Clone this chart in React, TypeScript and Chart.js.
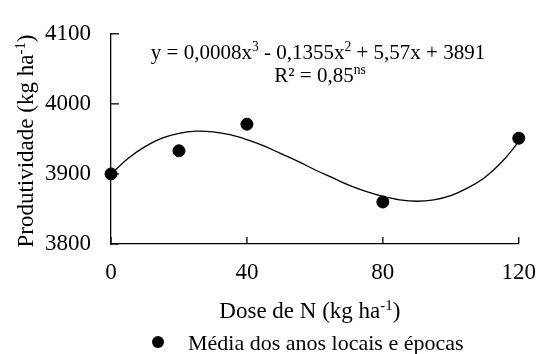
import React, { useEffect, useRef } from "react";
import { Chart, registerables } from "chart.js";

Chart.register(...registerables);

// ---- data ----
const doses = [0, 20, 40, 80, 120];
const produtividade = [3900, 3933, 3971, 3860, 3951];

// fitted trend line
const curveDoses = [0, 5, 10, 15, 20, 25, 30, 35, 40, 45, 50, 55, 60, 65, 70, 75, 80, 85, 90, 95, 100, 105, 110, 115, 120];
const curveValues = [
  3900, 3922, 3939, 3951, 3958, 3961, 3960, 3956, 3949, 3940, 3929, 3918, 3906, 3895, 3884, 3875, 3868,
  3863, 3861, 3863, 3869, 3880, 3895, 3917, 3946,
];

const xTicks = [0, 40, 80, 120];
const yTicks = [3800, 3900, 4000, 4100];

const legendLabel = "Média dos anos locais e épocas";

type Seg = { t: string; sup?: boolean };
const equationLine1: Seg[] = [
  { t: "y = 0,0008x" },
  { t: "3", sup: true },
  { t: " - 0,1355x" },
  { t: "2", sup: true },
  { t: " + 5,57x + 3891" },
];
const equationLine2: Seg[] = [{ t: "R² = 0,85" }, { t: "ns", sup: true }];
const xTitle: Seg[] = [{ t: "Dose de N (kg ha" }, { t: "-1", sup: true }, { t: ")" }];
const yTitle: Seg[] = [{ t: "Produtividade (kg ha" }, { t: "-1", sup: true }, { t: ")" }];

const FONT = "'Liberation Serif', 'Times New Roman', Times, serif";

function drawRich(
  ctx: CanvasRenderingContext2D,
  segs: Seg[],
  x: number,
  y: number,
  size: number,
  align: "center" | "left"
) {
  const supSize = size * 0.65;
  let total = 0;
  const widths = segs.map((s) => {
    ctx.font = `${s.sup ? supSize : size}px ${FONT}`;
    const w = ctx.measureText(s.t).width;
    total += w;
    return w;
  });
  let cx = align === "center" ? x - total / 2 : x;
  ctx.textAlign = "left";
  ctx.textBaseline = "alphabetic";
  segs.forEach((s, i) => {
    ctx.font = `${s.sup ? supSize : size}px ${FONT}`;
    ctx.fillText(s.t, cx, s.sup ? y - size * 0.36 : y);
    cx += widths[i];
  });
}

const overlayPlugin = {
  id: "overlay",
  afterDraw(chart: any) {
    const { ctx, chartArea } = chart;
    const xs = chart.scales.x;
    const ys = chart.scales.y;
    ctx.save();
    ctx.strokeStyle = "#000";
    ctx.fillStyle = "#000";
    ctx.lineWidth = 1.3;
    // inward tick marks
    yTicks.forEach((v) => {
      const py = ys.getPixelForValue(v);
      ctx.beginPath();
      ctx.moveTo(chartArea.left, py);
      ctx.lineTo(chartArea.left + 8, py);
      ctx.stroke();
    });
    xTicks.forEach((v) => {
      const px = xs.getPixelForValue(v);
      ctx.beginPath();
      ctx.moveTo(px, chartArea.bottom);
      ctx.lineTo(px, chartArea.bottom - 7);
      ctx.stroke();
    });
    // equation
    drawRich(ctx, equationLine1, 318, 59, 21, "center");
    drawRich(ctx, equationLine2, 320, 82, 21, "center");
    // axis titles
    const cxArea = (chartArea.left + chartArea.right) / 2;
    drawRich(ctx, xTitle, cxArea - 5, 318, 23, "center");
    ctx.save();
    ctx.translate(33, 141);
    ctx.rotate(-Math.PI / 2);
    drawRich(ctx, yTitle, 0, 0, 23, "center");
    ctx.restore();
    // legend
    ctx.beginPath();
    ctx.arc(158, 342, 6, 0, Math.PI * 2);
    ctx.fill();
    ctx.font = `22px ${FONT}`;
    ctx.textAlign = "left";
    ctx.textBaseline = "alphabetic";
    ctx.fillText(legendLabel, 188, 350);
    ctx.restore();
  },
};

export default function App() {
  const ref = useRef<HTMLCanvasElement | null>(null);
  useEffect(() => {
    if (!ref.current) return;
    const chart = new Chart(ref.current, {
      type: "scatter",
      data: {
        datasets: [
          {
            label: "Ajuste",
            data: curveDoses.map((d, i) => ({ x: d, y: curveValues[i] })),
            showLine: true,
            borderColor: "#000",
            borderWidth: 1.3,
            pointRadius: 0,
            pointHoverRadius: 0,
            tension: 0.4,
            fill: false,
            clip: false,
            order: 2,
          } as any,
          {
            label: legendLabel,
            data: doses.map((d, i) => ({ x: d, y: produtividade[i] })),
            backgroundColor: "#000",
            borderColor: "#000",
            pointRadius: 6,
            pointHoverRadius: 6,
            clip: false,
            order: 1,
          } as any,
        ],
      },
      options: {
        animation: false,
        responsive: false,
        events: [],
        layout: { padding: { top: 24, right: 20, left: 0, bottom: 0 } },
        plugins: { legend: { display: false }, tooltip: { enabled: false } },
        scales: {
          x: {
            type: "linear",
            min: 0,
            max: 120,
            afterBuildTicks: (s: any) => {
              s.ticks = xTicks.map((v) => ({ value: v }));
            },
            afterFit: (s: any) => {
              s.height = 110;
            },
            grid: { display: false, drawTicks: false },
            border: { display: true, color: "#000", width: 1.3 },
            ticks: {
              color: "#000",
              font: { family: FONT, size: 23 },
              padding: 15,
              maxRotation: 0,
              callback: (v: any) => String(v),
            },
          },
          y: {
            type: "linear",
            min: 3800,
            max: 4100,
            afterBuildTicks: (s: any) => {
              s.ticks = yTicks.map((v) => ({ value: v }));
            },
            afterFit: (s: any) => {
              s.width = 111;
            },
            grid: { display: false, drawTicks: false },
            border: { display: true, color: "#000", width: 1.3 },
            ticks: {
              color: "#000",
              font: { family: FONT, size: 23 },
              padding: 20,
              callback: (v: any) => String(v),
            },
          },
        },
      },
      plugins: [overlayPlugin],
    });
    return () => chart.destroy();
  }, []);
  return (
    <div style={{ position: "fixed", left: 0, top: 0, width: 551, height: 354, background: "#fff" }}>
      <canvas ref={ref} width={551} height={354} />
    </div>
  );
}
